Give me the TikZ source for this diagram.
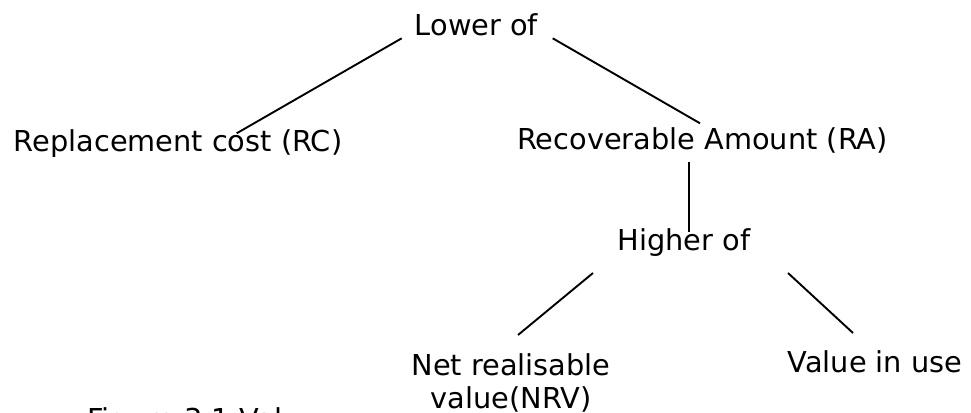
\documentclass[tikz,border=0pt]{standalone}
\usepackage{fontspec}
\setmainfont{DejaVu Sans}
\begin{document}
\begin{tikzpicture}[x=1pt,y=-1pt,
  lbl/.style={inner sep=0pt, anchor=base, font=\fontsize{28.8}{33}\selectfont},
  conn/.style={line width=1.9pt, line cap=butt}]
\useasboundingbox (0,0) rectangle (971,412);
\node[lbl] (lower) at (476.5,36) {Lower of};
\node[lbl] (rc) at (178,151) {Replacement cost (RC)};
\node[lbl] (ra) at (702.5,149) {Recoverable Amount (RA)};
\node[lbl] (higher) at (684,250) {Higher of};
\node[lbl, align=center] (nrv) at (511,408) {Net realisable\\value(NRV)};
\node[lbl] (viu) at (875,372) {Value in use};
\node[lbl,anchor=base west] (cap) at (87,429) {Figure 3.1 Val};
% connector end points
\coordinate (l1a) at (401.7,38.3);
\coordinate (l1b) at (236.7,133.3);
\coordinate (l2a) at (552.7,38.3);
\coordinate (l2b) at (700,123.3);
\coordinate (l3a) at (689,162);
\coordinate (l3b) at (689,232);
\coordinate (l4a) at (593,273);
\coordinate (l4b) at (518,335);
\coordinate (l5a) at (788,273);
\coordinate (l5b) at (853,333);
\draw[conn] (l1a) -- (l1b);
\draw[conn] (l2a) -- (l2b);
\draw[conn] (l3a) -- (l3b);
\draw[conn] (l4a) -- (l4b);
\draw[conn] (l5a) -- (l5b);
\end{tikzpicture}
\end{document}
